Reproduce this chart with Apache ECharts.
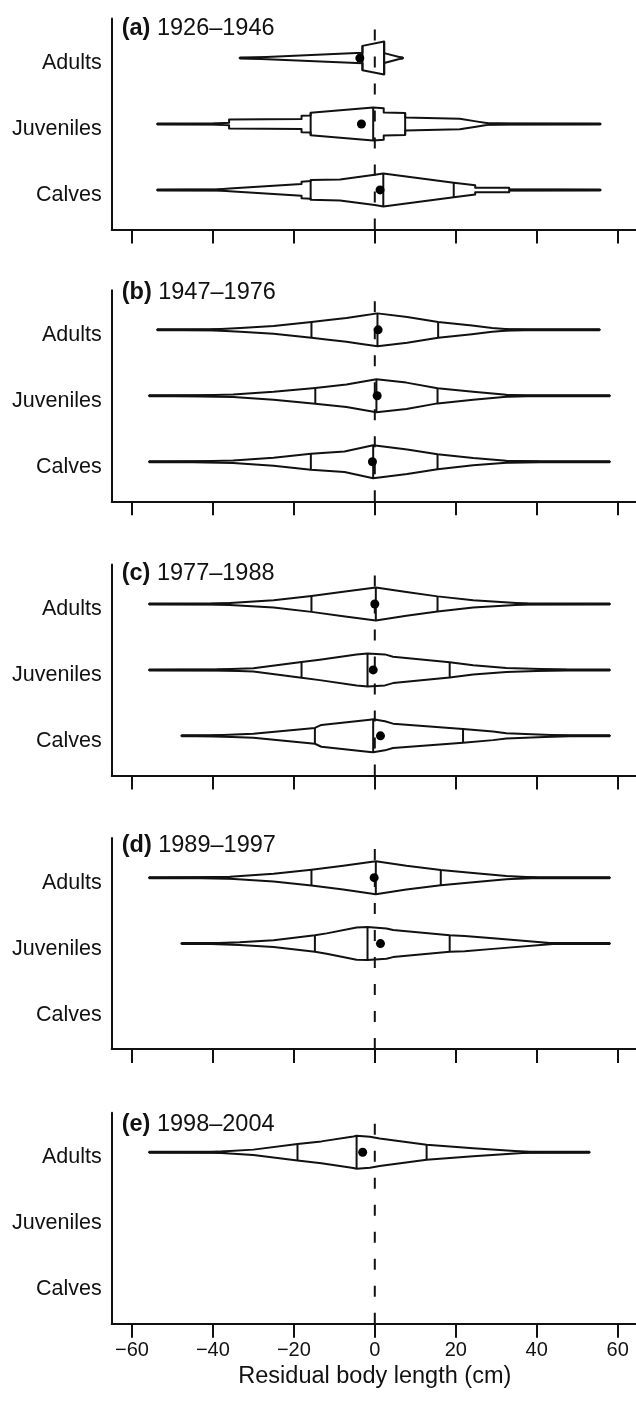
<!DOCTYPE html>
<html><head><meta charset="utf-8">
<script src="https://cdn.jsdelivr.net/npm/echarts@6/dist/echarts.min.js"></script>
<style>html,body{margin:0;padding:0;background:#fff}#c{width:636px;height:1405px}</style>
</head><body><div id="c"></div>
<script>
// ---------- data ----------
const categories = ['Adults', 'Juveniles', 'Calves'];
const panelLetters = ['(a)', '(b)', '(c)', '(d)', '(e)'];
const periods = ['1926–1946', '1947–1976', '1977–1988', '1989–1997', '1998–2004'];
const xTicks = [-60, -40, -20, 0, 20, 40, 60];
const xTitle = 'Residual body length (cm)';

// box-percentile outlines: [residual (cm), percentile]
const profilesA = [
  [[-33.4,0],[-31,1],[-4.5,15],[-3.05,16],[-3.05,37],[2.3,50],[2.3,85],[7.0,100]],
  [[-53.8,0],[-40,1],[-36,4],[-36,14],[-18.1,15],[-18.1,25],[-15.85,26],[-15.85,34],[-0.4,50],[2.2,52],[2.2,65],[7.5,67],[7.5,80],[21,84],[25,92],[28,97.5],[33.4,99],[55.8,100]],
  [[-53.8,0],[-39,1],[-35.9,4],[-18.1,18],[-18.1,25],[-15.85,27],[-15.85,30],[-8.6,32],[0,46],[2.1,50],[19.5,78],[24.8,86],[24.8,93],[33.2,93],[33.2,99],[55.8,100]]
];
const profilesB = [
  [[-53.8,0],[-40.4,1],[-33.2,6],[-25,12],[-15.65,24],[-12,29],[-7,36],[-3.7,42],[0.66,50],[8,61],[15.65,76],[24,87],[29,94],[33,98],[37,99.5],[55.6,100]],
  [[-55.8,0],[-44,1],[-35,4],[-25,12],[-14.7,24],[-7,34],[0.4,50],[7.8,60],[15.5,77],[24.3,88],[32.5,97],[37.5,99.5],[58.1,100]],
  [[-55.8,0],[-45,1],[-35,4],[-25,12],[-15.8,24],[-7.5,31],[-0.4,50],[8,63],[15.5,77],[24.3,89],[32.5,97],[40.8,99.5],[58.1,100]]
];
const profilesC = [
  [[-55.8,0],[-40.4,1],[-35.8,3],[-25,11],[-15.65,24],[-7.8,37],[0.25,50],[7.8,64],[15.5,77],[24.3,89],[37.9,99.5],[58.1,100]],
  [[-55.8,0],[-39,1],[-30,5],[-18.1,24],[-13.6,31],[-4.5,47],[-1.8,50],[2.5,53],[4.5,60],[18.5,77],[24.3,86],[32.5,94],[47.4,99.5],[58.1,100]],
  [[-47.8,0],[-40.4,1],[-30,6],[-14.8,24],[-13.2,33],[-1.2,49],[-0.4,50],[2.5,56],[4.5,63],[21.8,79],[29.2,87],[32.5,92],[48.2,99.5],[58.1,100]]
];
const profilesD = [
  [[-55.8,0],[-43,1],[-35.8,3],[-25,12],[-15.65,24],[-7.8,36],[0.25,50],[7.8,64],[16.3,77],[24.3,86],[32.5,95],[40,99.5],[58.1,100]],
  [[-47.8,0],[-40.4,1],[-33.4,4],[-25,10],[-14.8,25],[-11.9,31],[-4.5,49],[-1.8,50],[2.9,54],[4.5,59],[18.5,75],[22.2,77],[29.2,84],[44,99],[52.6,99.7],[58.1,100]]
];
const profilesE = [
  [[-55.8,0],[-40.4,1],[-37.9,2],[-30,8],[-19.1,25],[-13.2,33],[-5.3,48],[-4.5,50],[-1.2,53],[1.2,58],[12.8,77],[24.3,88],[38.3,99.5],[53.1,100]]
];

// 25th, 50th, 75th percentile lines (cm)
const quartilesA = [[-3.05, 2.3, 2.3], [-15.85, -0.4, 7.5], [-15.85, 2.1, 19.5]];
const quartilesB = [[-15.65, 0.66, 15.65], [-14.7, 0.4, 15.5], [-15.8, -0.4, 15.5]];
const quartilesC = [[-15.65, 0.25, 15.5], [-18.1, -1.8, 18.5], [-14.8, -0.4, 21.8]];
const quartilesD = [[-15.65, 0.25, 16.3], [-14.8, -1.8, 18.5]];
const quartilesE = [[-19.1, -4.5, 12.8]];

// means (dots)
const meansA = [-3.7, -3.3, 1.3];
const meansB = [0.82, 0.58, -0.58];
const meansC = [0, -0.4, 1.4];
const meansD = [-0.16, 1.4];
const meansE = [-3.0];

const panels = [
  { profiles: profilesA, quartiles: quartilesA, means: meansA },
  { profiles: profilesB, quartiles: quartilesB, means: meansB },
  { profiles: profilesC, quartiles: quartilesC, means: meansC },
  { profiles: profilesD, quartiles: quartilesD, means: meansD },
  { profiles: profilesE, quartiles: quartilesE, means: meansE }
];

// ---------- layout ----------
const FONT = "'Liberation Sans', Arial, Helvetica, sans-serif";
const INK = '#111';
const gridTops = [18.5, 290.3, 564.4, 838.1, 1112.7];
const titleCenters = [26.5, 291, 571.7, 843.3, 1123];
const GRID_H = 211;
const TITLE_FS = 23.5;
const LABEL_SHIFT = 0.08; // category labels sit slightly below their rows

function half(p) { return 0.5 * Math.min(p, 100 - p) / 100; }
function hwAt(prof, x) {
  let best = 0;
  for (let i = 0; i < prof.length - 1; i++) {
    const [x0, p0] = prof[i], [x1, p1] = prof[i + 1];
    if (x < x0 - 1e-9 || x > x1 + 1e-9) continue;
    let h;
    if (x1 === x0) h = Math.max(half(p0), half(p1));
    else { const t = (x - x0) / (x1 - x0); h = half(p0) + (half(p1) - half(p0)) * t; }
    best = Math.max(best, h);
  }
  return best;
}

const grids = [], xAxes = [], yAxes = [], series = [], titles = [];
panels.forEach((panel, pi) => {
  const last = pi === panels.length - 1;
  grids.push({ left: 111.7, width: 526.2, top: gridTops[pi], height: GRID_H, containLabel: false, outerBoundsMode: 'none' });
  xAxes.push({
    type: 'value', gridIndex: pi, min: -65, max: 65,
    axisLine: { show: true, onZero: false, lineStyle: { color: INK, width: 2 } },
    axisTick: { show: true, customValues: xTicks, length: 14, lineStyle: { color: INK, width: 2 } },
    axisLabel: { show: last, customValues: xTicks, margin: 16.5, fontSize: 20, color: INK, fontFamily: FONT,
      formatter: v => (v < 0 ? '\u2212' + Math.abs(v) : String(v)) },
    splitLine: { show: false },
    name: last ? xTitle : '', nameLocation: 'middle', nameGap: 41,
    nameTextStyle: { fontSize: 23.5, color: INK, fontFamily: FONT }
  });
  yAxes.push({
    type: 'value', gridIndex: pi, min: 0.4, max: 3.6, inverse: true,
    axisLine: { show: true, onZero: false, lineStyle: { color: INK, width: 2 } },
    axisTick: { show: false }, splitLine: { show: false },
    axisLabel: { customValues: [1, 2, 3].map(v => v + LABEL_SHIFT), formatter: v => categories[Math.round(v) - 1], margin: 10,
      fontSize: 21.5, color: INK, fontFamily: FONT }
  });
  titles.push({
    text: '{b|' + panelLetters[pi] + '} ' + periods[pi], left: 121.7, top: titleCenters[pi] - TITLE_FS / 2 + 1.5, padding: 0,
    textStyle: { fontSize: TITLE_FS, fontWeight: 'normal', color: INK, fontFamily: FONT,
      rich: { b: { fontSize: TITLE_FS, fontWeight: 'bold', color: INK, fontFamily: FONT } } }
  });
  // shapes
  series.push({
    type: 'custom', xAxisIndex: pi, yAxisIndex: pi, z: 2, silent: true, clip: false, animation: false,
    data: panel.profiles.map((_, gi) => [0, gi + 1, gi]),
    renderItem: (params, api) => {
      const gi = api.value(2);
      const prof = panel.profiles[gi];
      const y = gi + 1;
      const top = prof.map(([x, p]) => api.coord([x, y - half(p)]));
      const bot = prof.slice().reverse().map(([x, p]) => api.coord([x, y + half(p)]));
      const a = api.coord([prof[0][0], y]), b = api.coord([prof[prof.length - 1][0], y]);
      const children = [
        { type: 'line', shape: { x1: a[0], y1: a[1], x2: b[0], y2: b[1] }, style: { stroke: INK, lineWidth: 3 } },
        { type: 'polygon', shape: { points: top.concat(bot) }, style: { fill: '#fff', stroke: INK, lineWidth: 2, lineJoin: 'round' } }
      ];
      panel.quartiles[gi].forEach(q => {
        const h = hwAt(prof, q);
        const p1 = api.coord([q, y - h]), p2 = api.coord([q, y + h]);
        children.push({ type: 'line', shape: { x1: p1[0], y1: p1[1], x2: p2[0], y2: p2[1] }, style: { stroke: INK, lineWidth: 2 } });
      });
      return { type: 'group', children };
    }
  });
  // dashed zero line (drawn from bottom up)
  series.push({
    type: 'custom', xAxisIndex: pi, yAxisIndex: pi, z: 3, silent: true, clip: false, animation: false,
    data: [[0, 3.6]],
    renderItem: (params, api) => {
      const p1 = api.coord([0, 3.6]), p2 = api.coord([0, 0.4]);
      return { type: 'line', shape: { x1: p1[0], y1: p1[1], x2: p2[0], y2: p2[1] },
        style: { stroke: INK, lineWidth: 2, lineDash: [11, 16], lineCap: 'butt' } };
    }
  });
  // means
  series.push({
    type: 'scatter', xAxisIndex: pi, yAxisIndex: pi, z: 4, silent: true, animation: false,
    symbol: 'circle', symbolSize: 9, itemStyle: { color: '#000', opacity: 1 },
    data: panel.means.map((m, gi) => [m, gi + 1])
  });
});

const chart = echarts.init(document.getElementById('c'), null, { renderer: 'canvas' });
chart.setOption({
  backgroundColor: '#fff', animation: false,
  title: titles, grid: grids, xAxis: xAxes, yAxis: yAxes, series: series
});
</script></body></html>
